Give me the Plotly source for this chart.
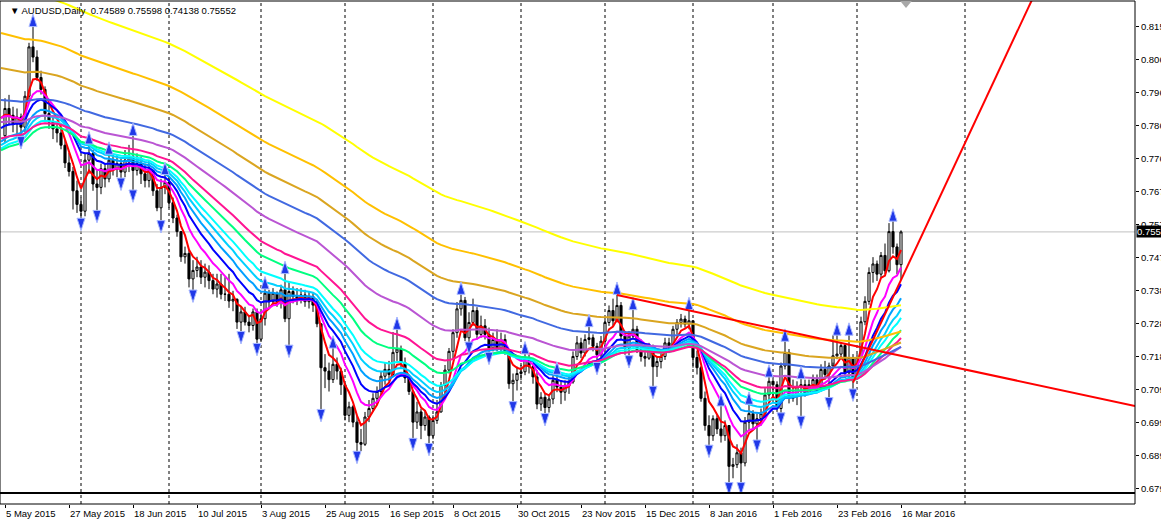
import plotly.graph_objects as go

# ---------------- data ----------------
OPEN = [0.7838,0.7918,0.7898,0.7873,0.7893,0.7863,0.7954,0.8099,0.8069,0.8009,
0.7974,0.7903,0.7878,0.7858,0.7846,0.7810,0.7758,0.7733,0.7676,0.7636,
0.7616,0.7766,0.7786,0.7696,0.7686,0.7741,0.7711,0.7766,0.7741,0.7756,
0.7731,0.7766,0.7776,0.7736,0.7756,0.7726,0.7706,0.7736,0.7676,0.7626,
0.7686,0.7701,0.7641,0.7596,0.7556,0.7482,0.7492,0.7417,0.7442,0.7452,
0.7422,0.7437,0.7412,0.7387,0.7402,0.7372,0.7372,0.7352,0.7357,0.7290,
0.7320,0.7290,0.7280,0.7320,0.7240,0.7300,0.7375,0.7350,0.7375,0.7350,
0.7385,0.7300,0.7380,0.7365,0.7360,0.7370,0.7350,0.7365,0.7340,0.7285,
0.7156,0.7146,0.7121,0.7166,0.7146,0.7106,0.7016,0.7041,0.6996,0.6936,
0.6931,0.7011,0.7036,0.7066,0.7086,0.7131,0.7151,0.7136,0.7201,0.7211,
0.7171,0.7126,0.7086,0.6996,0.7026,0.6986,0.7011,0.6956,0.7001,0.7026,
0.7104,0.7149,0.7204,0.7259,0.7329,0.7354,0.7244,0.7289,0.7324,0.7254,
0.7279,0.7254,0.7214,0.7239,0.7214,0.7239,0.7204,0.7109,0.7119,0.7139,
0.7144,0.7184,0.7159,0.7129,0.7049,0.7069,0.7039,0.7064,0.7119,0.7099,
0.7084,0.7104,0.7114,0.7189,0.7229,0.7199,0.7239,0.7244,0.7219,0.7194,
0.7234,0.7289,0.7324,0.7294,0.7339,0.7249,0.7214,0.7249,0.7269,0.7209,
0.7189,0.7184,0.7214,0.7159,0.7174,0.7189,0.7229,0.7214,0.7269,0.7289,
0.7299,0.7284,0.7294,0.7186,0.7156,0.7066,0.6986,0.6956,0.7006,0.6976,
0.6956,0.6986,0.6866,0.6871,0.6906,0.6876,0.6996,0.7021,0.6991,0.7006,
0.7021,0.7076,0.7116,0.7106,0.7036,0.7161,0.7201,0.7066,0.7076,0.7101,
0.7106,0.7081,0.7106,0.7121,0.7096,0.7151,0.7136,0.7161,0.7191,0.7196,
0.7221,0.7141,0.7186,0.7126,0.7186,0.7291,0.7351,0.7436,0.7461,0.7431,
0.7486,0.7441,0.7556,0.7511,0.74589]

HIGH = [0.7948,0.7958,0.7923,0.7918,0.7903,0.7969,0.8111,0.8161,0.8089,0.8029,
0.7983,0.7928,0.7898,0.7878,0.7858,0.7828,0.7788,0.7746,0.7706,0.7656,
0.7786,0.7816,0.7796,0.7736,0.7756,0.7756,0.7786,0.7786,0.7781,0.7771,
0.7796,0.7811,0.7841,0.7786,0.7776,0.7756,0.7766,0.7736,0.7696,0.7711,
0.7726,0.7716,0.7656,0.7606,0.7552,0.7512,0.7502,0.7472,0.7482,0.7472,
0.7462,0.7457,0.7432,0.7432,0.7432,0.7422,0.7432,0.7382,0.7360,0.7335,
0.7335,0.7310,0.7330,0.7330,0.7320,0.7390,0.7385,0.7390,0.7380,0.7400,
0.7435,0.7410,0.7395,0.7390,0.7390,0.7385,0.7380,0.7375,0.7355,0.7286,
0.7196,0.7171,0.7216,0.7186,0.7156,0.7111,0.7056,0.7046,0.7016,0.6976,
0.7026,0.7061,0.7081,0.7101,0.7146,0.7171,0.7176,0.7261,0.7271,0.7221,
0.7186,0.7126,0.7091,0.7056,0.7036,0.7031,0.7016,0.7016,0.7061,0.7114,
0.7164,0.7214,0.7269,0.7349,0.7374,0.7364,0.7319,0.7359,0.7334,0.7309,
0.7299,0.7274,0.7259,0.7269,0.7259,0.7254,0.7209,0.7139,0.7159,0.7164,
0.7199,0.7194,0.7169,0.7149,0.7084,0.7079,0.7074,0.7134,0.7139,0.7119,
0.7119,0.7134,0.7204,0.7249,0.7244,0.7254,0.7279,0.7254,0.7229,0.7249,
0.7304,0.7339,0.7359,0.7374,0.7349,0.7264,0.7264,0.7329,0.7279,0.7239,
0.7224,0.7229,0.7224,0.7189,0.7204,0.7244,0.7244,0.7279,0.7299,0.7314,
0.7309,0.7329,0.7286,0.7206,0.7161,0.7086,0.7016,0.7016,0.7016,0.7046,
0.7001,0.6986,0.6891,0.6931,0.6921,0.7011,0.7051,0.7031,0.7021,0.7036,
0.7096,0.7131,0.7126,0.7116,0.7171,0.7236,0.7211,0.7121,0.7116,0.7126,
0.7121,0.7121,0.7136,0.7136,0.7166,0.7176,0.7171,0.7251,0.7254,0.7231,
0.7226,0.7254,0.7196,0.7196,0.7306,0.7366,0.7451,0.7481,0.7471,0.7496,
0.7521,0.7581,0.7589,0.7521,0.75598]

LOW = [0.7818,0.7868,0.7848,0.7843,0.7833,0.7848,0.7944,0.8054,0.7999,0.7959,
0.7878,0.7858,0.7828,0.7818,0.7798,0.7743,0.7718,0.7621,0.7611,0.7593,
0.7601,0.7726,0.7676,0.7616,0.7666,0.7686,0.7701,0.7721,0.7716,0.7711,
0.7716,0.7731,0.7676,0.7721,0.7696,0.7686,0.7686,0.7661,0.7616,0.7586,
0.7666,0.7626,0.7581,0.7541,0.7467,0.7462,0.7392,0.7382,0.7422,0.7402,
0.7392,0.7387,0.7372,0.7362,0.7357,0.7352,0.7332,0.7322,0.7270,0.7260,
0.7280,0.7260,0.7265,0.7225,0.7235,0.7280,0.7330,0.7340,0.7335,0.7330,
0.7290,0.7220,0.7345,0.7340,0.7345,0.7335,0.7330,0.7320,0.7275,0.7031,
0.7096,0.7086,0.7111,0.7121,0.7076,0.7001,0.6996,0.6981,0.6908,0.6911,
0.6926,0.6996,0.7026,0.7046,0.7071,0.7106,0.7116,0.7131,0.7176,0.7156,
0.7111,0.7076,0.6946,0.6976,0.6946,0.6971,0.6931,0.6946,0.6991,0.7024,
0.7079,0.7139,0.7179,0.7244,0.7309,0.7234,0.7229,0.7279,0.7239,0.7244,
0.7239,0.7199,0.7204,0.7204,0.7204,0.7194,0.7094,0.7054,0.7089,0.7119,
0.7134,0.7139,0.7109,0.7034,0.7029,0.7019,0.7024,0.7049,0.7084,0.7049,
0.7059,0.7079,0.7109,0.7179,0.7184,0.7189,0.7224,0.7204,0.7169,0.7184,
0.7204,0.7279,0.7279,0.7289,0.7239,0.7194,0.7189,0.7239,0.7199,0.7174,
0.7159,0.7179,0.7099,0.7129,0.7154,0.7179,0.7199,0.7209,0.7254,0.7274,
0.7274,0.7269,0.7156,0.7136,0.7056,0.6971,0.6926,0.6941,0.6961,0.6936,
0.6941,0.6816,0.6831,0.6861,0.6816,0.6866,0.6971,0.6976,0.6941,0.6986,
0.7011,0.7061,0.7066,0.7026,0.7021,0.7151,0.7051,0.7056,0.7046,0.7011,
0.7071,0.7076,0.7091,0.7081,0.7086,0.7121,0.7066,0.7171,0.7181,0.7181,
0.7126,0.7116,0.7091,0.7126,0.7181,0.7281,0.7341,0.7406,0.7411,0.7421,
0.7431,0.7436,0.7491,0.7431,0.74138]

CLOSE = [0.7918,0.7898,0.7873,0.7893,0.7863,0.7954,0.8099,0.8069,0.8009,0.7974,
0.7903,0.7878,0.7858,0.7846,0.7810,0.7758,0.7733,0.7676,0.7636,0.7616,
0.7766,0.7786,0.7696,0.7686,0.7741,0.7711,0.7766,0.7741,0.7756,0.7731,
0.7766,0.7776,0.7736,0.7756,0.7726,0.7706,0.7736,0.7676,0.7626,0.7686,
0.7701,0.7641,0.7596,0.7556,0.7482,0.7492,0.7417,0.7442,0.7452,0.7422,
0.7437,0.7412,0.7387,0.7402,0.7372,0.7372,0.7352,0.7357,0.7290,0.7320,
0.7290,0.7280,0.7320,0.7240,0.7300,0.7375,0.7350,0.7375,0.7350,0.7385,
0.7300,0.7380,0.7365,0.7360,0.7370,0.7350,0.7365,0.7340,0.7285,0.7156,
0.7146,0.7121,0.7166,0.7146,0.7106,0.7016,0.7041,0.6996,0.6936,0.6931,
0.7011,0.7036,0.7066,0.7086,0.7131,0.7151,0.7136,0.7201,0.7211,0.7171,
0.7126,0.7086,0.6996,0.7026,0.6986,0.7011,0.6956,0.7001,0.7026,0.7104,
0.7149,0.7204,0.7259,0.7329,0.7354,0.7244,0.7289,0.7324,0.7254,0.7279,
0.7254,0.7214,0.7239,0.7214,0.7239,0.7204,0.7109,0.7119,0.7139,0.7144,
0.7184,0.7159,0.7129,0.7049,0.7069,0.7039,0.7064,0.7119,0.7099,0.7084,
0.7104,0.7114,0.7189,0.7229,0.7199,0.7239,0.7244,0.7219,0.7194,0.7234,
0.7289,0.7324,0.7294,0.7339,0.7249,0.7214,0.7249,0.7269,0.7209,0.7189,
0.7184,0.7214,0.7159,0.7174,0.7189,0.7229,0.7214,0.7269,0.7289,0.7299,
0.7284,0.7294,0.7186,0.7156,0.7066,0.6986,0.6956,0.7006,0.6976,0.6956,
0.6986,0.6866,0.6871,0.6906,0.6876,0.6996,0.7021,0.6991,0.7006,0.7021,
0.7076,0.7116,0.7106,0.7036,0.7161,0.7201,0.7066,0.7076,0.7101,0.7106,
0.7081,0.7106,0.7121,0.7096,0.7151,0.7136,0.7161,0.7191,0.7196,0.7221,
0.7141,0.7186,0.7126,0.7186,0.7291,0.7351,0.7436,0.7461,0.7431,0.7486,
0.7441,0.7556,0.7511,0.74589,0.75552]

DATE_TICK_BARS = [0, 16, 32, 48, 64, 80, 96, 112, 128, 144, 160, 176, 192, 208, 224]
DATE_LABELS = ["5 May 2015", "27 May 2015", "18 Jun 2015", "10 Jul 2015", "3 Aug 2015",
               "25 Aug 2015", "16 Sep 2015", "8 Oct 2015", "30 Oct 2015", "23 Nov 2015",
               "15 Dec 2015", "8 Jan 2016", "1 Feb 2016", "23 Feb 2016", "16 Mar 2016"]
MONTH_START_BARS = [19, 41, 64, 85, 107, 129, 150, 172, 192, 213, 240]

PRICE_TICKS = [0.81575, 0.80605, 0.79635, 0.78665, 0.77695, 0.76725, 0.75755, 0.74785,
               0.73815, 0.72845, 0.71875, 0.70905, 0.69935, 0.68965, 0.67995]

# moving-average rainbow (EMA): periods, colours, values at the left edge
MA_PERIODS = [5, 10, 15, 20, 25, 30, 40, 50, 75, 100, 120, 150, 200]
MA_COLORS = ["#FF0000", "#FF00FF", "#0000FF", "#00A0FF", "#00D0FF", "#00FFFF", "#00FF80",
             "#FF1493", "#BA55D3", "#4169E1", "#DAA520", "#FFC000", "#FFFF00"]
MA_START = [0.7890, 0.7890, 0.7860, 0.7820, 0.7810, 0.7800, 0.7795, 0.7830, 0.7878, 0.7943,
            0.8037, 0.8140, 0.8281]

# user-drawn trend lines: anchor bars and prices
TREND1_BARS = [153, 226]
TREND1_PRICES = [0.7370, 0.7186]
TREND2_BARS = [212, 224]
TREND2_PRICES = [0.7112, 0.74138]

LAST_PRICE = 0.75552
TITLE = "AUDUSD,Daily  0.74589 0.75598 0.74138 0.75552"

# ---------------- figure ----------------
N = len(CLOSE)
bars = list(range(N))
X_RANGE = [-1.25, 282.5]
Y_RANGE = [0.67877, 0.82339]
FONT = "Liberation Sans"

fig = go.Figure()

fig.add_trace(go.Candlestick(
    x=bars, open=OPEN, high=HIGH, low=LOW, close=CLOSE,
    increasing=dict(line=dict(color="black", width=1), fillcolor="white"),
    decreasing=dict(line=dict(color="black", width=1), fillcolor="black"),
    whiskerwidth=0, hoverinfo="skip", showlegend=False))


def ema(values, period, start):
    a = 2.0 / (period + 1)
    e = start
    out = [start]
    for v in values:
        e = a * v + (1 - a) * e
        out.append(e)
    return out


ma_x = [-1] + bars
for period, color, start in zip(MA_PERIODS, MA_COLORS, MA_START):
    fig.add_trace(go.Scatter(x=ma_x, y=ema(CLOSE, period, start), mode="lines",
                             line=dict(color=color, width=2), hoverinfo="skip",
                             showlegend=False))

# Bill Williams fractals
FRACTAL_GAP = 0.0034
up_x, up_y, dn_x, dn_y = [], [], [], []
for i in range(2, N - 2):
    if HIGH[i] > max(HIGH[i - 2], HIGH[i - 1]) and HIGH[i] >= max(HIGH[i + 1], HIGH[i + 2]):
        up_x.append(i)
        up_y.append(HIGH[i] + FRACTAL_GAP)
    if LOW[i] < min(LOW[i - 2], LOW[i - 1]) and LOW[i] <= min(LOW[i + 1], LOW[i + 2]):
        dn_x.append(i)
        dn_y.append(LOW[i] - FRACTAL_GAP)
fig.add_trace(go.Scatter(x=up_x, y=up_y, mode="markers",
                         marker=dict(symbol="arrow", angle=0, size=13, color="#2038E8",
                                     line=dict(color="#A8B8FF", width=1)),
                         hoverinfo="skip", showlegend=False))
fig.add_trace(go.Scatter(x=dn_x, y=dn_y, mode="markers",
                         marker=dict(symbol="arrow", angle=180, size=13, color="#2038E8",
                                     line=dict(color="#A8B8FF", width=1)),
                         hoverinfo="skip", showlegend=False))


def extend(bx, py, x_end):
    slope = (py[1] - py[0]) / (bx[1] - bx[0])
    return [bx[0], x_end], [py[0], py[0] + slope * (x_end - bx[0])]


for bx, py in ((TREND1_BARS, TREND1_PRICES), (TREND2_BARS, TREND2_PRICES)):
    tx, ty = extend(bx, py, X_RANGE[1])
    fig.add_trace(go.Scatter(x=tx, y=ty, mode="lines", line=dict(color="#FF0000", width=2),
                             hoverinfo="skip", showlegend=False))

shapes = []
for b in MONTH_START_BARS:
    shapes.append(dict(type="line", xref="x", yref="paper", x0=b, x1=b, y0=0, y1=1,
                       line=dict(color="black", width=1, dash="3px,3px"), layer="below"))
shapes.append(dict(type="line", xref="paper", yref="y", x0=0, x1=1, y0=LAST_PRICE, y1=LAST_PRICE,
                   line=dict(color="#C0C0C0", width=1), layer="below"))
shapes.append(dict(type="rect", xref="paper", yref="paper", x0=0, x1=1, y0=0, y1=1,
                   line=dict(color="black", width=1)))
STRIP = 11 / 503
shapes.append(dict(type="line", xref="paper", yref="paper", x0=0, x1=1, y0=STRIP, y1=STRIP,
                   line=dict(color="black", width=2)))
# chart-shift marker
shapes.append(dict(type="path", xref="x", yref="paper",
                   path="M 223.8,1 L 226.7,1 L 225.25,0.986 Z",
                   fillcolor="#A8A8A8", line=dict(width=0)))

annotations = []
for b, lab in zip(DATE_TICK_BARS, DATE_LABELS):
    annotations.append(dict(x=b, xref="x", y=-0.019, yref="paper", text=lab, showarrow=False,
                            xanchor="left", yanchor="middle", xshift=-1,
                            font=dict(family=FONT, size=9.5, color="black")))
annotations.append(dict(x=1, xref="paper", y=LAST_PRICE, yref="y", text="%.5f" % LAST_PRICE,
                       showarrow=False, xanchor="left", yanchor="middle", xshift=1,
                       bgcolor="black", borderpad=0,
                       font=dict(family=FONT, size=9.5, color="white")))
annotations.append(dict(x=0, xref="paper", y=1, yref="paper", text="\u25bc " + TITLE,
                        showarrow=False, xanchor="left", yanchor="top", xshift=8, yshift=-2,
                        font=dict(family=FONT, size=9.5, color="black")))

fig.update_layout(
    width=1161, height=528,
    margin=dict(l=0, r=26, t=1, b=24, autoexpand=False),
    paper_bgcolor="white", plot_bgcolor="white",
    showlegend=False, boxgap=0.25,
    shapes=shapes, annotations=annotations,
    xaxis=dict(range=X_RANGE, domain=[0, 1], anchor="free", position=0,
               showgrid=False, zeroline=False, showline=False, automargin=False,
               ticks="outside", ticklen=3, tickcolor="black",
               tickvals=DATE_TICK_BARS, showticklabels=False,
               rangeslider=dict(visible=False), fixedrange=True),
    yaxis=dict(range=Y_RANGE, domain=[STRIP, 1], side="right", automargin=False,
               showgrid=False, zeroline=False, showline=False,
               ticks="outside", ticklen=3, tickcolor="black",
               tickvals=PRICE_TICKS, ticktext=["%.5f" % v for v in PRICE_TICKS],
               tickfont=dict(family=FONT, size=9.5, color="black"), fixedrange=True),
)

fig.write_html("out.html")
